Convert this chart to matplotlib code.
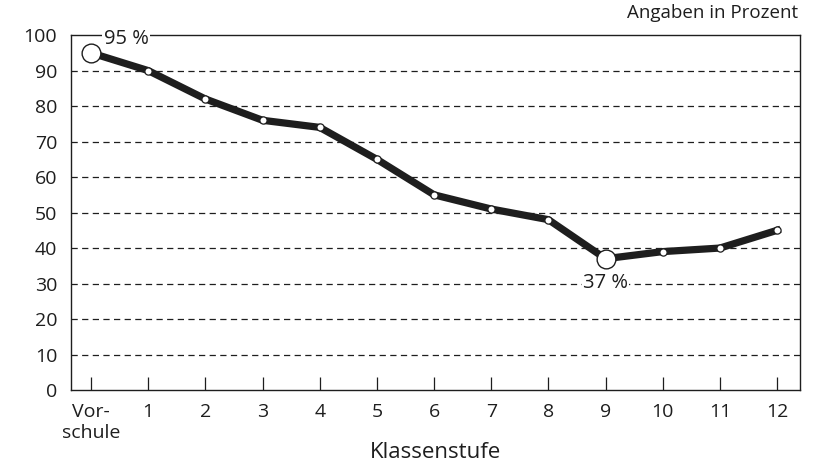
import numpy as np
import matplotlib.pyplot as plt

plt.rcParams['font.family'] = ['Open Sans', 'DejaVu Sans']

grades = ["Vor-\nschule", "1", "2", "3", "4", "5", "6", "7", "8", "9", "10", "11", "12"]
values = [95, 90, 82, 76, 74, 65, 55, 51, 48, 37, 39, 40, 45]
y_ticks = [0, 10, 20, 30, 40, 50, 60, 70, 80, 90, 100]

x = np.arange(len(grades))
ink = "#1e1e1e"

fig = plt.figure(figsize=(8.23, 4.62), dpi=100)
ax = fig.add_axes([0.0863, 0.1558, 0.8857, 0.7682])

for v in y_ticks[1:-1]:
    ax.axhline(v, color=ink, lw=0.9, ls=(0, (5, 3.5)), zorder=1)

ax.plot(x, values, color=ink, lw=5.2, solid_joinstyle="miter", zorder=2)
ax.plot(x, values, "o", ms=5.2, mfc="white", mec=ink, mew=0.9, zorder=3)

big = [0, 9]
ax.plot(x[big], np.array(values)[big], "o", ms=13.5, mfc="white", mec=ink, mew=1.0, zorder=4)

ax.text(x[0] + 0.22, values[0] + 1.2, "95 %", fontsize=14.5, ha="left", va="bottom",
        color=ink, zorder=5, bbox=dict(fc="white", ec="none", pad=1))
ax.text(x[9], values[9] - 4.0, "37 %", fontsize=14.5, ha="center", va="top",
        color=ink, zorder=5, bbox=dict(fc="white", ec="none", pad=1))

ax.set_xlim(-0.35, 12.4)
ax.set_ylim(0, 100)
ax.set_xticks(x)
ax.set_xticklabels(grades, fontsize=14, color=ink, linespacing=1.25)
ax.set_yticks(y_ticks)
ax.set_yticklabels([str(v) for v in y_ticks], fontsize=14, color=ink)
ax.tick_params(axis="x", direction="in", length=9.5, width=0.9, color=ink, pad=9)
ax.tick_params(axis="y", length=0, pad=10)
for s in ax.spines.values():
    s.set_color(ink)
    s.set_linewidth(1.0)

ax.set_xlabel("Klassenstufe", fontsize=16, color=ink, labelpad=0)
fig.text(0.970, 0.972, "Angaben in Prozent", fontsize=13.5, ha="right", va="center", color=ink)

fig.savefig("out.png", dpi=100)
